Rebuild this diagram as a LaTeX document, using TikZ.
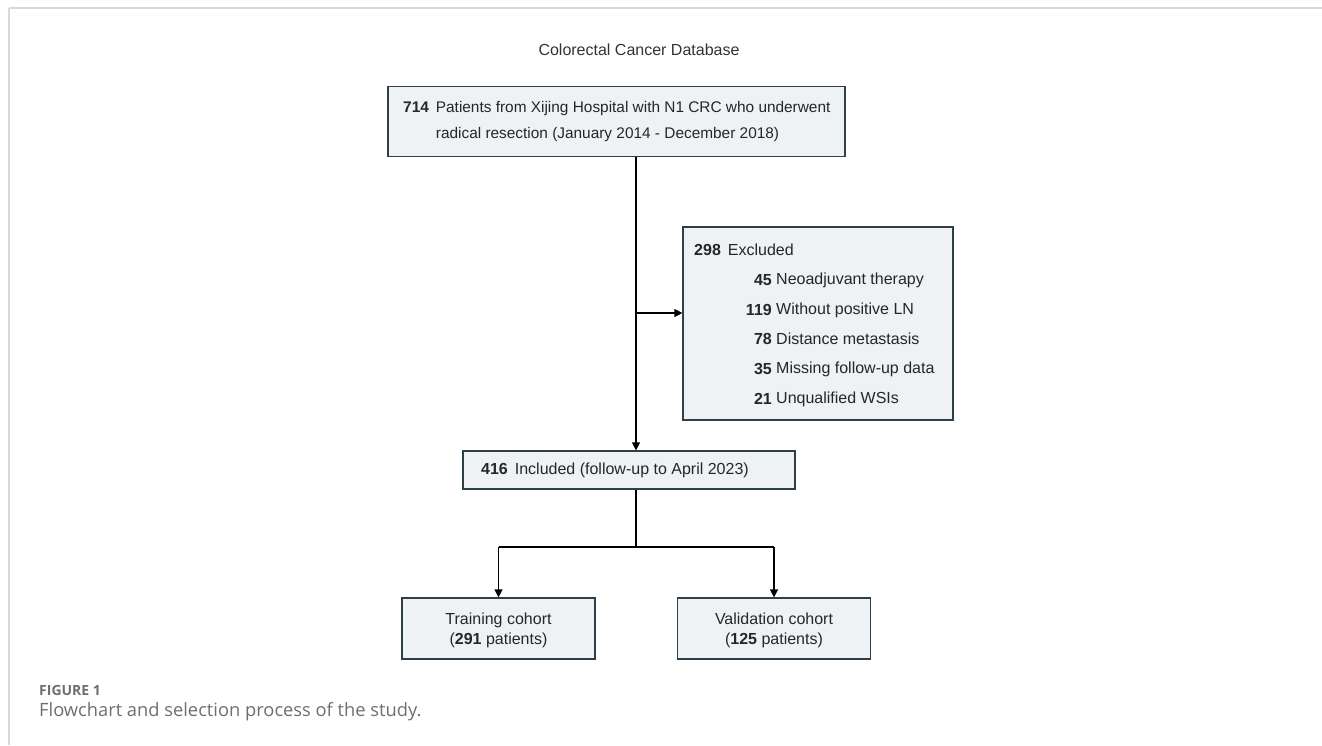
\documentclass[tikz,border=0pt]{standalone}
\usepackage{fontspec}
\setmainfont{Liberation Sans}
\newfontfamily\capfont{Open Sans}
\usetikzlibrary{arrows.meta}
\definecolor{boxfill}{HTML}{EEF2F5}
\definecolor{boxline}{HTML}{2E3F48}
\definecolor{frame}{HTML}{D9D9D9}
\definecolor{capgray}{HTML}{6E6E6E}
\tikzset{
  box/.style={draw=boxline, line width=1.2pt, fill=boxfill, inner sep=0pt},
  txt/.style={inner sep=0pt, font=\fontsize{16}{20}\selectfont},
  conn/.style={draw=black, line width=1.3pt},
  arr/.style={conn, -{Triangle[length=8pt,width=8pt]}},
}
\begin{document}
\begin{tikzpicture}[x=1pt,y=-1pt]
\useasboundingbox (0,0) rectangle (1322,745);
% frame lines
\draw[frame, line width=2pt] (9,8) -- (1322,8);
\draw[frame, line width=2pt] (9,8) -- (9,745);

\node[txt, text=black!80] (title) at (639,50) {Colorectal Cancer Database};

% box 1
\node[box, minimum width=457pt, minimum height=70pt] (b1) at (616.5,121.5) {};
\node[txt, anchor=west, text=black!85, font=\fontsize{15.4}{19}\selectfont] (b1t) at (403,122) {\begin{tabular}{@{}l@{\hspace{7pt}}l@{}}\textbf{714} & Patients from Xijing Hospital with N1 CRC who underwent\\[7pt] & radical resection (January 2014 - December 2018)\end{tabular}};

% excluded box
\node[box, minimum width=270pt, minimum height=193pt] (ex) at (818,323.5) {};
\node[txt, anchor=west, text=black!85] (ex0) at (694,250) {\textbf{298}\hspace{7pt}Excluded};
\node[txt, anchor=east, text=black!85] (n1) at (772,280) {\textbf{45}};
\node[txt, anchor=west, text=black!85] (t1) at (776,280) {Neoadjuvant therapy};
\node[txt, anchor=east, text=black!85] (n2) at (772,310) {\textbf{119}};
\node[txt, anchor=west, text=black!85] (t2) at (776,310) {Without positive LN};
\node[txt, anchor=east, text=black!85] (n3) at (772,339) {\textbf{78}};
\node[txt, anchor=west, text=black!85] (t3) at (776,339) {Distance metastasis};
\node[txt, anchor=east, text=black!85] (n4) at (772,369) {\textbf{35}};
\node[txt, anchor=west, text=black!85] (t4) at (776,369) {Missing follow-up data};
\node[txt, anchor=east, text=black!85] (n5) at (772,399) {\textbf{21}};
\node[txt, anchor=west, text=black!85] (t5) at (776,399) {Unqualified WSIs};

% included box
\node[box, minimum width=332pt, minimum height=38pt] (inc) at (629,470) {};
\node[txt, anchor=west, text=black!85] (inct) at (481,470) {\textbf{416}\hspace{7pt}Included (follow-up to April 2023)};

% training / validation
\node[box, minimum width=193pt, minimum height=61pt] (tr) at (498.5,628.5) {};
\node[txt, align=center, text=black!85] (trt) at (498.5,630) {Training cohort\\(\textbf{291} patients)};
\node[box, minimum width=193pt, minimum height=61pt] (va) at (774,628.5) {};
\node[txt, align=center, text=black!85] (vat) at (774,630) {Validation cohort\\(\textbf{125} patients)};

% connectors
\coordinate (split) at (636,313);
\coordinate (fork) at (636,547);
\coordinate (forkL) at (498.5,547);
\coordinate (forkR) at (774,547);
\draw[arr] (b1.south -| split) -- (inc.north -| split);
\draw[arr] (split) -- (split -| ex.west);
\draw[conn] (inc.south -| fork) -- (fork);
\draw[conn] (forkL) -- (forkR);
\draw[arr] (forkL) -- (tr.north);
\draw[arr] (forkR) -- (va.north);

% caption
\node[anchor=west, inner sep=0pt, text=capgray, font=\capfont\bfseries\fontsize{14}{16}\selectfont] (fig) at (39,690) {FIGURE 1};
\node[anchor=west, inner sep=0pt, text=capgray, font=\capfont\fontsize{18.3}{22}\selectfont] (cap) at (39,712) {Flowchart and selection process of the study.};
\end{tikzpicture}
\end{document}
